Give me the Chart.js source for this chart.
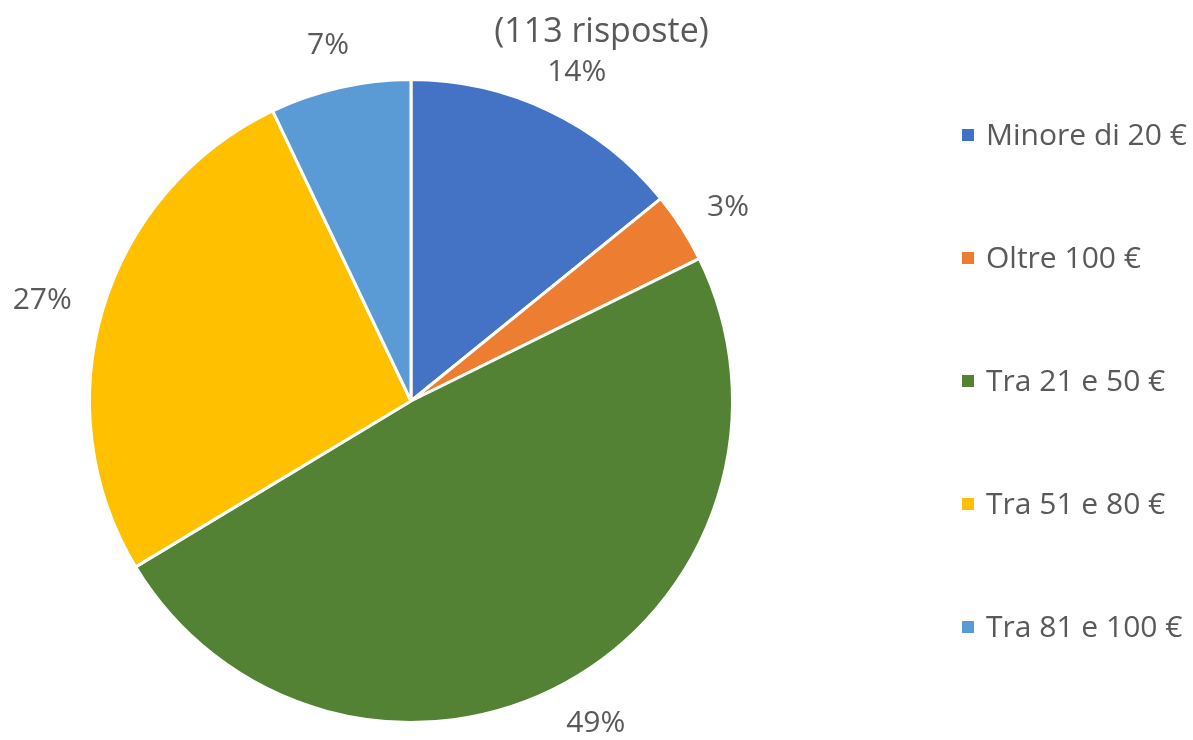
<!DOCTYPE html>
<html>
<head>
<meta charset="utf-8">
<script src="https://cdn.jsdelivr.net/npm/chart.js@4.4.1/dist/chart.umd.min.js"></script>
<style>
  html, body { margin: 0; padding: 0; background: #fff; }
  #wrap { width: 1193px; height: 740px; }
</style>
</head>
<body>
<div id="wrap"><canvas id="pieChart" width="1193" height="740"></canvas></div>
<script>
var categories = ['Minore di 20 €', 'Oltre 100 €', 'Tra 21 e 50 €', 'Tra 51 e 80 €', 'Tra 81 e 100 €'];
var answers = [16, 4, 55, 30, 8];
var pctLabels = ['14%', '3%', '49%', '27%', '7%'];
var colors = ['#4472C4', '#ED7D31', '#548235', '#FFC000', '#5B9BD5'];
var titleText = '(113 risposte)';

var textColor = '#595959';
var fontFamily = '"Open Sans", "Noto Sans", sans-serif';

// title, percent labels and legend drawn by hand like the original
var extras = {
    id: 'extras',
    afterDraw: function (chart) {
        var ctx = chart.ctx;
        ctx.save();
        ctx.fillStyle = textColor;

        // title
        ctx.font = '34px ' + fontFamily;
        ctx.textAlign = 'center';
        ctx.textBaseline = 'middle';
        ctx.fillText(titleText, chart.width / 2 + 5, 32);

        // percent labels just outside each slice (box edge touches the offset ring)
        ctx.font = '30px ' + fontFamily;
        var meta = chart.getDatasetMeta(0);
        meta.data.forEach(function (arc, i) {
            var p = arc.getProps(['x', 'y', 'startAngle', 'endAngle', 'outerRadius'], true);
            var mid = (p.startAngle + p.endAngle) / 2;
            var r = p.outerRadius + 34;
            var halfW = ctx.measureText(pctLabels[i]).width / 2;
            var halfH = 15;
            var cx = p.x + Math.cos(mid) * r + Math.cos(mid) * halfW;
            var cy = p.y + Math.sin(mid) * r + Math.sin(mid) * halfH + 6;
            cy = Math.min(cy, chart.height - 17);
            ctx.fillText(pctLabels[i], cx, cy);
        });

        // legend
        ctx.textAlign = 'left';
        ctx.font = '30px ' + fontFamily;
        var lx = 962, ly = 135, step = 123;
        categories.forEach(function (c, i) {
            var y = ly + i * step;
            ctx.fillStyle = colors[i];
            ctx.fillRect(lx, y - 6, 12, 12);
            ctx.fillStyle = textColor;
            ctx.fillText(c, lx + 24, y + 1);
        });
        ctx.restore();
    }
};

var ctx = document.getElementById('pieChart').getContext('2d');
var pieChart = new Chart(ctx, {
    type: 'pie',
    data: {
        labels: categories,
        datasets: [{
            data: answers,
            backgroundColor: colors,
            borderColor: '#ffffff',
            borderWidth: 3
        }]
    },
    options: {
        responsive: false,
        animation: false,
        layout: {
            padding: { left: 88, right: 459, top: 78, bottom: 16 }
        },
        plugins: {
            legend: { display: false },
            tooltip: { enabled: false }
        }
    },
    plugins: [extras]
});
</script>
</body>
</html>
